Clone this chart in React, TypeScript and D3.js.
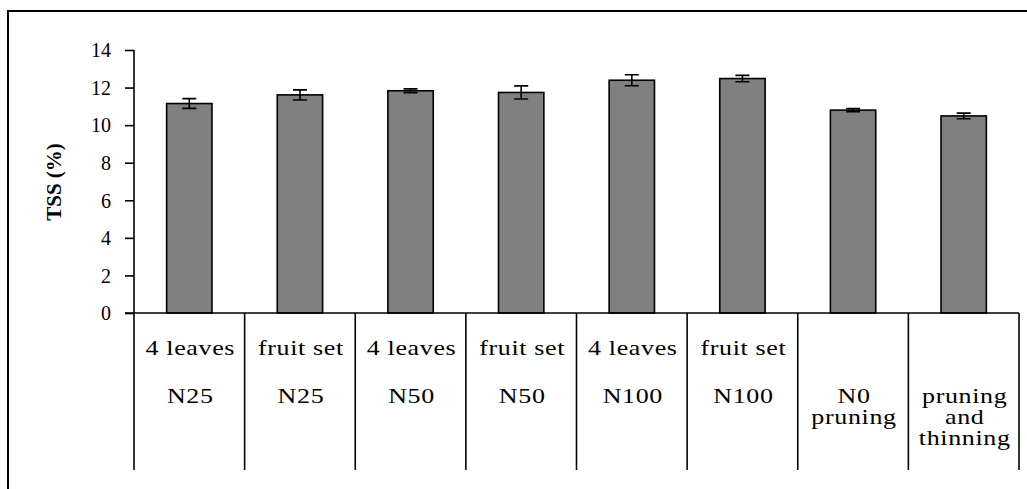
import { useEffect, useRef } from "react";
import * as d3 from "d3";

const WIDTH = 1027;
const HEIGHT = 489;

// data
const categories = ["c1", "c2", "c3", "c4", "c5", "c6", "c7", "c8"];
const stageLabels = ["4 leaves", "fruit set", "4 leaves", "fruit set", "4 leaves", "fruit set", "", ""];
const treatmentLabels = [
  ["N25"],
  ["N25"],
  ["N50"],
  ["N50"],
  ["N100"],
  ["N100"],
  ["N0", "pruning"],
  ["pruning", "and", "thinning"],
];
const tssValues = [11.15, 11.61, 11.83, 11.74, 12.39, 12.48, 10.8, 10.49];
const tssErrors = [0.26, 0.27, 0.1, 0.35, 0.29, 0.17, 0.08, 0.15];
const yTicks = [0, 2, 4, 6, 8, 10, 12, 14];

const FONT = "Liberation Serif";

export default function App() {
  const svgRef = useRef<SVGSVGElement>(null);

  useEffect(() => {
    const svgElement = svgRef.current;
    if (!svgElement) return;

    const left = 134;
    const right = 1019;
    const top = 50;
    const bottom = 313;
    const tableBottom = 470;

    const y = d3.scaleLinear().domain([0, 14]).range([bottom, top]);
    const columns = d3.scaleBand<string>().domain(categories).range([left, right]).padding(0);
    const bars = d3
      .scaleBand<string>()
      .domain(categories)
      .range([left, right])
      .paddingInner(0.59)
      .paddingOuter(0.295);

    const svg = d3.select(svgElement);
    svg.selectAll("*").remove();

    // outer frame (only top and left edges show)
    svg
      .append("path")
      .attr("d", `M8,${HEIGHT}V11H${WIDTH}`)
      .attr("fill", "none")
      .attr("stroke", "#000")
      .attr("stroke-width", 2);

    // bars
    svg
      .append("g")
      .selectAll("rect")
      .data(tssValues)
      .join("rect")
      .attr("x", (_, i) => bars(categories[i])!)
      .attr("y", (d) => y(d))
      .attr("width", bars.bandwidth())
      .attr("height", (d) => y(0) - y(d))
      .attr("fill", "#808080")
      .attr("stroke", "#000")
      .attr("stroke-width", 1.6);

    // error bars
    const errG = svg
      .append("g")
      .attr("stroke", "#000")
      .attr("stroke-width", 1.6)
      .attr("fill", "none");
    tssValues.forEach((v, i) => {
      const cx = bars(categories[i])! + bars.bandwidth() / 2;
      const y1 = y(v + tssErrors[i]);
      const y2 = y(v - tssErrors[i]);
      errG
        .append("path")
        .attr("d", `M${cx},${y1}V${y2}M${cx - 7},${y1}H${cx + 7}M${cx - 7},${y2}H${cx + 7}`);
    });

    // y axis
    const axis = svg
      .append("g")
      .attr("transform", `translate(${left},0)`)
      .call(d3.axisLeft(y).tickValues(yTicks).tickSize(9).tickPadding(14).tickFormat(d3.format("d")));
    axis.attr("font-family", null).attr("font-size", null);
    axis.select(".domain").remove();
    axis.selectAll(".tick line").attr("stroke", "#000").attr("stroke-width", 1.6);
    axis
      .selectAll(".tick text")
      .style("font-family", FONT)
      .style("font-size", "20px")
      .attr("fill", "#000")
      .attr("dy", "0.34em");

    svg
      .append("line")
      .attr("x1", left)
      .attr("x2", left)
      .attr("y1", top)
      .attr("y2", tableBottom)
      .attr("stroke", "#000")
      .attr("stroke-width", 1.6);

    // baseline
    svg
      .append("line")
      .attr("x1", left - 9)
      .attr("x2", right)
      .attr("y1", bottom)
      .attr("y2", bottom)
      .attr("stroke", "#000")
      .attr("stroke-width", 1.6);

    // table dividers
    svg
      .append("g")
      .selectAll("line")
      .data(categories.slice(1).map((c) => columns(c)!).concat([right]))
      .join("line")
      .attr("x1", (d) => d)
      .attr("x2", (d) => d)
      .attr("y1", bottom)
      .attr("y2", tableBottom)
      .attr("stroke", "#000")
      .attr("stroke-width", 1.6);

    // category labels
    const labelG = svg
      .append("g")
      .style("font-family", FONT)
      .style("font-size", "20px")
      .style("letter-spacing", "0.5px")
      .attr("text-anchor", "middle")
      .attr("fill", "#000");
    categories.forEach((c, i) => {
      const cx = columns(c)! + columns.bandwidth() / 2 + 1;
      const lines: [string, number][] = [];
      if (stageLabels[i]) lines.push([stageLabels[i], 355]);
      treatmentLabels[i].forEach((t, j) => lines.push([t, 402.7 + j * 21.3]));
      lines.forEach(([t, ty]) => {
        labelG
          .append("text")
          .attr("transform", `translate(${cx},${ty}) scale(1.3,1)`)
          .text(t);
      });
    });

    // y title
    svg
      .append("text")
      .attr("transform", `translate(61,182) rotate(-90)`)
      .attr("text-anchor", "middle")
      .style("font-family", FONT)
      .style("font-size", "21px")
      .style("font-weight", "bold")
      .attr("fill", "#000")
      .text("TSS (%)");
  }, []);

  return (
    <div style={{ position: "absolute", left: 0, top: 0, background: "#fff" }}>
      <svg ref={svgRef} width={WIDTH} height={HEIGHT} style={{ display: "block" }} />
    </div>
  );
}
